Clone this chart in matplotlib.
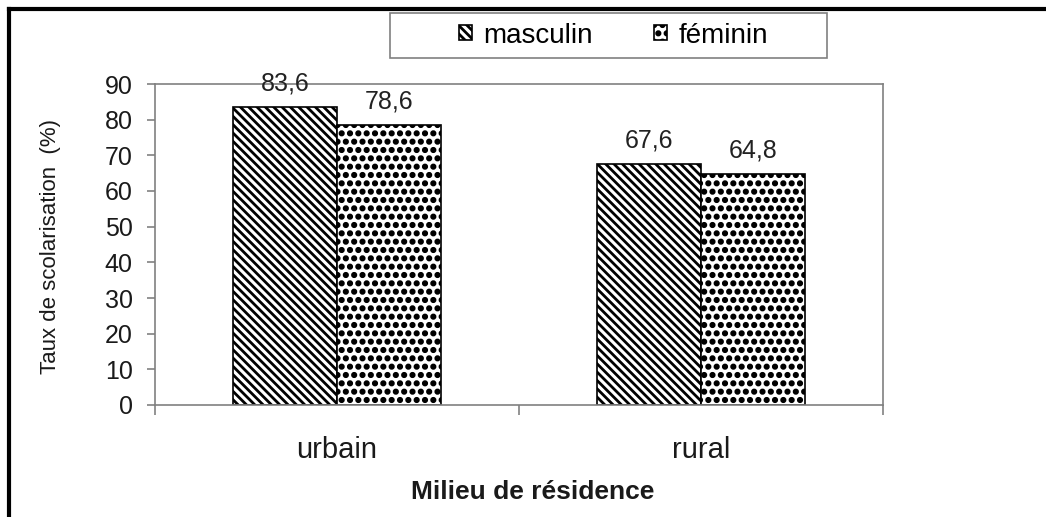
import matplotlib
matplotlib.use('Agg')
import matplotlib.pyplot as plt
import matplotlib.hatch
import numpy as np
from matplotlib.patches import Rectangle
from matplotlib.lines import Line2D

categories = ['urbain', 'rural']
masculin = [83.6, 67.6]
feminin = [78.6, 64.8]
series_names = ['masculin', 'féminin']
yticks = [0, 10, 20, 30, 40, 50, 60, 70, 80, 90]

plt.rcParams['font.family'] = ['Liberation Sans', 'DejaVu Sans']
plt.rcParams['hatch.linewidth'] = 2.0
# bigger dots for the "féminin" pattern
matplotlib.hatch.SmallFilledCircles.size = 0.2

fig = plt.figure(figsize=(10.46, 5.17), dpi=100)
ax = fig.add_axes([155 / 1046, 1 - 405 / 517, 728 / 1046, 321 / 517])

x = np.arange(len(categories))
w = 1 / 3.5
b1 = ax.bar(x - w / 2, masculin, w, color='white', edgecolor='black',
            hatch=chr(92) * 4, linewidth=1.2, label=series_names[0])
b2 = ax.bar(x + w / 2, feminin, w, color='white', edgecolor='black',
            hatch='..', linewidth=1.2, label=series_names[1])

for bars, vals in [(b1, masculin), (b2, feminin)]:
    for rect, v in zip(bars, vals):
        ax.annotate(f'{v:.1f}'.replace('.', ','),
                    (rect.get_x() + rect.get_width() / 2, v),
                    xytext=(0, 8), textcoords='offset points',
                    ha='center', va='bottom', fontsize=18, color='#222222')

ax.set_xlim(-0.5, len(categories) - 0.5)
ax.set_ylim(0, 90)
ax.set_yticks(yticks)
ax.tick_params(axis='y', labelsize=18, length=6, width=1.1, color='#777777',
               pad=10, labelcolor='#1a1a1a')
ax.set_xticks(x)
ax.set_xticklabels(categories)
ax.set_xticks(np.arange(len(categories) + 1) - 0.5, minor=True)
ax.tick_params(axis='x', which='major', length=0, labelsize=21, pad=22,
               labelcolor='#1a1a1a')
ax.tick_params(axis='x', which='minor', length=7, width=1.1, color='#777777')

for sp in ax.spines.values():
    sp.set_color('#808080')
    sp.set_linewidth(1.2)

ax.set_ylabel('Taux de scolarisation  (%)', fontsize=16, va='center',
              color='#1a1a1a')
ax.yaxis.set_label_coords(-0.143, 0.495)
ax.set_xlabel('Milieu de résidence', fontsize=19, fontweight='bold',
              va='center', color='#1a1a1a')
ax.xaxis.set_label_coords(0.519, -0.271)

# legend with its own box
fig.legend(handles=[b1, b2], loc='center', bbox_to_anchor=(0.5865, 0.9313),
           ncol=2, frameon=False, fontsize=20, handlelength=0.47,
           handleheight=0.47, handletextpad=0.4, columnspacing=2.2)
fig.add_artist(Rectangle((390 / 1046, 1 - 58 / 517), 437 / 1046, 45 / 517,
                         transform=fig.transFigure, fill=False,
                         edgecolor='#808080', linewidth=1.2))

# outer chart frame
fig.add_artist(Line2D([9 / 1046, 9 / 1046], [0, 1 - 9 / 517],
                      transform=fig.transFigure, color='black', linewidth=3))
fig.add_artist(Line2D([9 / 1046, 1], [1 - 9 / 517, 1 - 9 / 517],
                      transform=fig.transFigure, color='black', linewidth=3))

fig.savefig('out.png', dpi=100)
